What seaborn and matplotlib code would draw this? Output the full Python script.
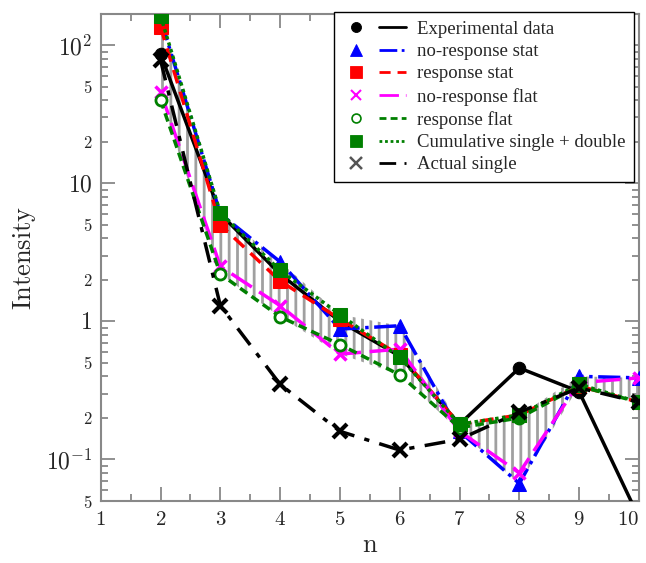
import numpy as np
import pandas as pd
import seaborn as sns
import matplotlib.pyplot as plt
from matplotlib.lines import Line2D
from matplotlib.legend_handler import HandlerTuple
from matplotlib.ticker import FixedLocator, FuncFormatter, MultipleLocator

n = [2, 3, 4, 5, 6, 7, 8, 9, 10]
experimental = [86, 6.0, 2.2, 1.0, 0.56, 0.18, 0.46, 0.31, 0.038]
noresp_stat = [155, 6.0, 2.7, 0.88, 0.93, 0.16, 0.067, 0.40, 0.39]
resp_stat = [136, 5.0, 1.96, 1.04, 0.57, 0.18, 0.21, 0.34, 0.26]
noresp_flat = [46, 2.5, 1.3, 0.58, 0.63, 0.16, 0.08, 0.36, 0.39]
resp_flat = [40, 2.2, 1.08, 0.68, 0.41, 0.17, 0.20, 0.34, 0.26]
cumulative = [163, 6.1, 2.34, 1.12, 0.55, 0.18, 0.21, 0.35, 0.26]
actual_single = [78, 1.3, 0.35, 0.16, 0.117, 0.14, 0.22, 0.33, 0.26]
x_ticks = [1, 2, 3, 4, 5, 6, 7, 8, 9, 10]

df = pd.DataFrame({'n': n, 'exp': experimental, 'nrs': noresp_stat, 'rs': resp_stat,
                   'nrf': noresp_flat, 'rf': resp_flat, 'cum': cumulative, 'act': actual_single})

sns.set_style('ticks')
plt.rcParams['mathtext.fontset'] = 'cm'
plt.rcParams['font.family'] = ['Liberation Serif', 'DejaVu Serif']
plt.rcParams['hatch.linewidth'] = 2.0
plt.rcParams['hatch.color'] = '#a0a0a0'

fig = plt.figure(figsize=(6.46, 5.63), dpi=100)
ax = fig.add_axes([0.156, 0.110, 0.833, 0.865])

# hatched band between the model curves
models = df[['nrs', 'rs', 'nrf', 'rf', 'cum']]
ax.fill_between(df['n'], models.min(axis=1), models.max(axis=1), facecolor='none',
                edgecolor='#a0a0a0', hatch='||', linewidth=0, zorder=1)

series = [
    ('exp', 'Experimental data', dict(color='black', ls='-', marker='o', ms=9, mfc='black', mec='black')),
    ('nrs', 'no-response stat', dict(color='#0000ff', ls='-.', marker='^', ms=10, mfc='#0000ff', mec='#0000ff')),
    ('rs', 'response stat', dict(color='#ff0000', ls=(0, (4, 2.5)), marker='s', ms=10, mfc='#ff0000', mec='#ff0000')),
    ('nrf', 'no-response flat', dict(color='#ff00ff', ls=(0, (7, 2.5)), marker='x', ms=9, mfc='#ff00ff', mec='#ff00ff', mew=2.5)),
    ('rf', 'response flat', dict(color='#008000', ls=(0, (2.5, 1.5)), marker='o', ms=8, mfc='white', mec='#008000', mew=2)),
    ('cum', 'Cumulative single + double', dict(color='#008000', ls=(0, (1, 1)), marker='s', ms=10, mfc='#008000', mec='#008000')),
    ('act', 'Actual single', dict(color='black', ls=(0, (6, 3, 1.5, 3)), marker='x', ms=10, mfc='black', mec='black', mew=3)),
]

handles = []
labels = []
for key, label, st in series:
    sns.lineplot(data=df, x='n', y=key, ax=ax, lw=2.5, zorder=3, **st)
    mk = Line2D([], [], ls='none', marker=st['marker'], ms=st['ms'] * 0.8, mfc=st['mfc'],
                mec=st['mec'] if key != 'act' else '#555555', mew=st.get('mew', 1) * 0.6)
    ln = Line2D([], [], color=st['color'], ls=st['ls'], lw=2)
    handles.append((mk, ln))
    labels.append(label)

ax.set_yscale('log')
ax.set_xlim(1, 10)
ax.set_ylim(0.05, 168)

ax.xaxis.set_major_locator(FixedLocator(x_ticks))
ax.xaxis.set_minor_locator(MultipleLocator(0.5))
ax.xaxis.set_major_formatter(FuncFormatter(lambda v, p: r'$%d$' % v))

major_y = [0.1, 1, 10, 100]
major_lab = {0.1: r'$10^{-1}$', 1: r'$1$', 10: r'$10$', 100: r'$10^{2}$'}
minor_y = [m * 10.0 ** e for e in range(-2, 3) for m in range(2, 10)]
ax.yaxis.set_major_locator(FixedLocator(major_y))
ax.yaxis.set_major_formatter(FuncFormatter(lambda v, p: major_lab.get(round(v, 3), '')))
ax.yaxis.set_minor_locator(FixedLocator(minor_y))


def minor_fmt(v, p):
    m = round(v / 10.0 ** np.floor(np.log10(v) + 1e-9))
    return r'$%d$' % m if m in (2, 5) else ''


ax.yaxis.set_minor_formatter(FuncFormatter(minor_fmt))

ax.tick_params(which='both', direction='in', top=True, right=True, color='#888888', width=1.3)
ax.tick_params(which='major', length=10)
ax.tick_params(which='minor', length=5)
ax.tick_params(axis='x', which='major', labelsize=15, pad=7)
ax.tick_params(axis='y', which='major', labelsize=17, pad=6)
ax.tick_params(axis='y', which='minor', labelsize=12, pad=6)
for s in ax.spines.values():
    s.set_color('#888888')
    s.set_linewidth(1.5)

ax.set_xlabel(r'$\mathrm{n}$', fontsize=19, labelpad=4)
ax.set_ylabel(r'$\mathrm{Intensity}$', fontsize=19, labelpad=6)

fig.canvas.draw()
for tick in ax.xaxis.get_major_ticks():
    if tick.get_loc() == 10:
        tick.label1.set_horizontalalignment('right')
        tick.label1.set_x(10.07)

leg = ax.legend(handles, labels, handler_map={tuple: HandlerTuple(ndivide=None, pad=0.5)},
                loc='upper right', bbox_to_anchor=(0.991, 1.004), borderaxespad=0,
                fontsize=13.5, labelspacing=0.28, handlelength=3.4, handletextpad=0.6,
                fancybox=False, framealpha=1, edgecolor='black', borderpad=0.45)
leg.get_frame().set_linewidth(1.0)
leg.set_zorder(5)

fig.savefig('out.png', dpi=100)
